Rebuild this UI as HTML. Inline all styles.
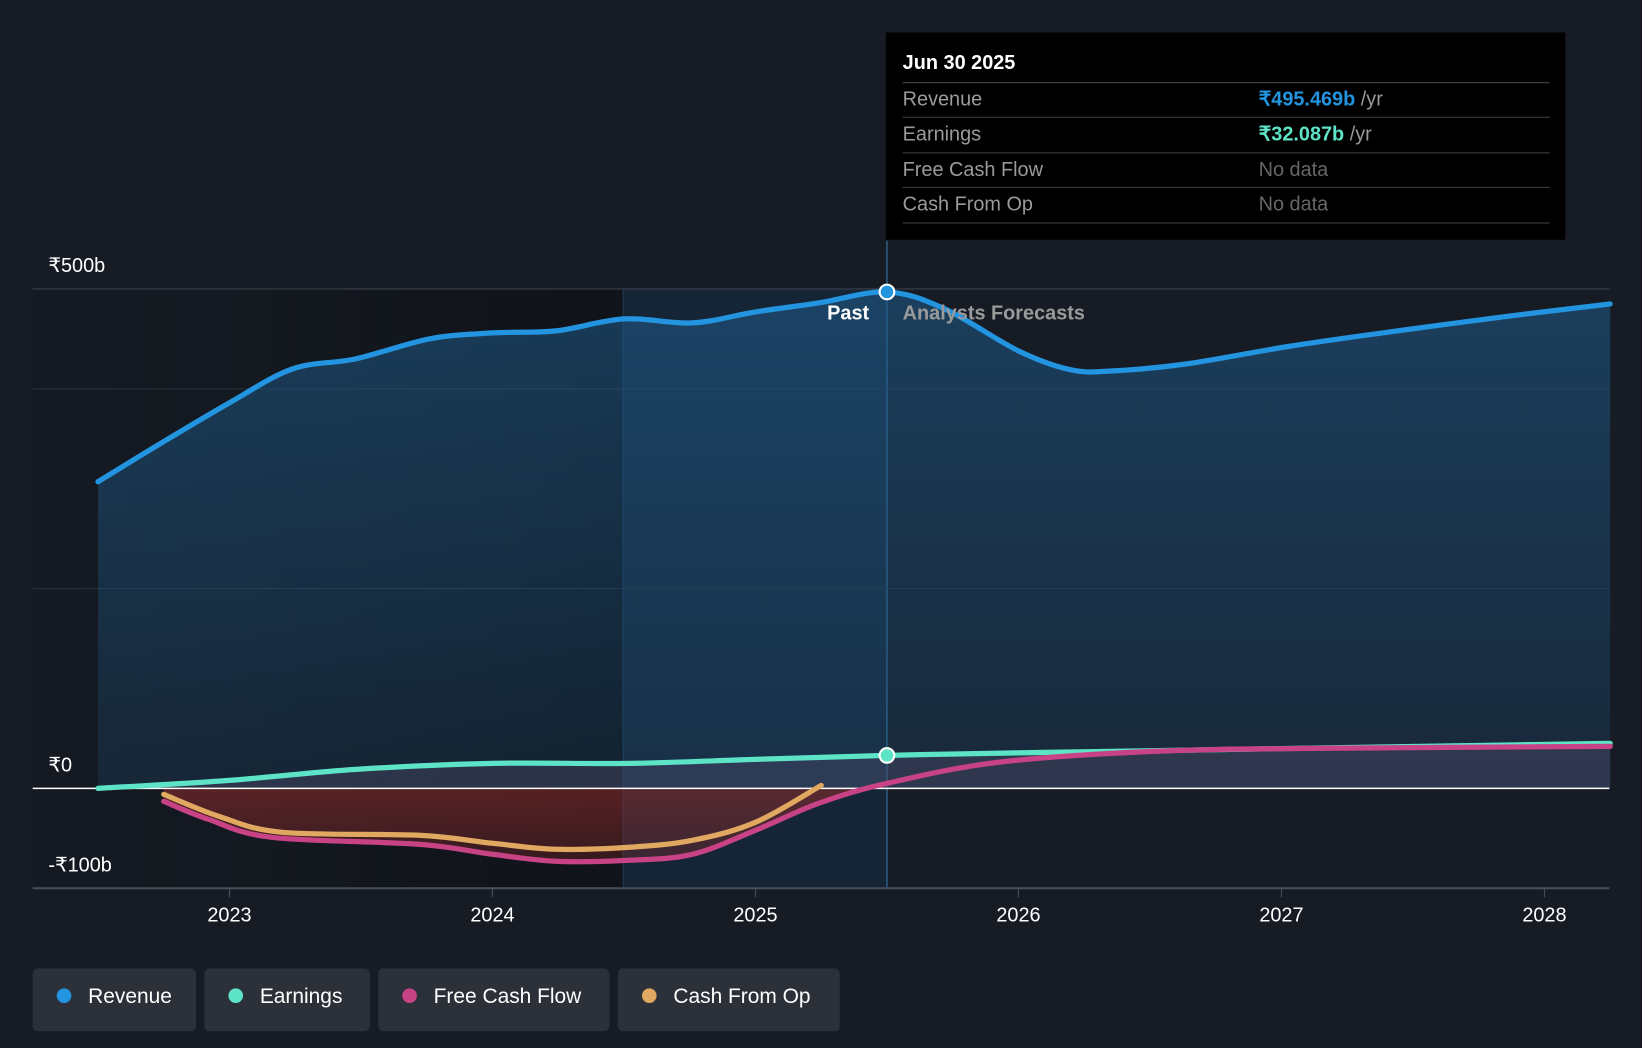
<!DOCTYPE html>
<html><head><meta charset="utf-8"><style>
html,body{margin:0;padding:0;background:#161b24;}
svg{display:block;font-family:"Liberation Sans",sans-serif;}
</style></head><body>
<svg width="1642" height="1048" viewBox="0 0 1568 1001">
<defs>
<linearGradient id="revg" x1="0" y1="0" x2="0" y2="1"><stop offset="0" stop-color="#1f5c8c" stop-opacity="0.55"/><stop offset="1" stop-color="#1f5c8c" stop-opacity="0.2"/></linearGradient>
<linearGradient id="fcfg" x1="0" y1="0" x2="0" y2="1"><stop offset="0" stop-color="#8a2a2a" stop-opacity="0.75"/><stop offset="1" stop-color="#8a2a2a" stop-opacity="0.3"/></linearGradient>
<linearGradient id="pastg" x1="0" y1="0" x2="1" y2="0"><stop offset="0" stop-color="#12151b" stop-opacity="0.2"/><stop offset="1" stop-color="#0f1217" stop-opacity="0.9"/></linearGradient>
<clipPath id="neg"><rect x="0" y="753" width="1568" height="200"/></clipPath>
</defs>
<rect x="0" y="0" width="1568" height="1001" fill="#161b24"/>
<rect x="31" y="276" width="564" height="573" fill="url(#pastg)"/>
<rect x="595" y="276" width="252" height="573" fill="#16324d" opacity="0.45"/>
<line x1="595" y1="276" x2="595" y2="849" stroke="#1f3a55" stroke-width="1"/>
<line x1="847" y1="230" x2="847" y2="849" stroke="#2c5a80" stroke-width="1.5"/>
<g id="grid"></g>
<g id="marks"></g>
<rect x="846" y="31" width="649" height="198" fill="#000"/>
<text x="862" y="66" fill="#fff" font-size="19" font-weight="bold">Jun 30 2025</text>
<g font-size="19" fill="#9a9a9a">
<line x1="862" y1="79" x2="1480" y2="79" stroke="#444"/>
<text x="862" y="101">Revenue</text><text x="1202" y="101"><tspan fill="#2394df" font-weight="bold">₹495.469b</tspan> /yr</text>
<line x1="862" y1="112" x2="1480" y2="112" stroke="#444"/>
<text x="862" y="134">Earnings</text><text x="1202" y="134"><tspan fill="#5de4c7" font-weight="bold">₹32.087b</tspan> /yr</text>
<line x1="862" y1="146" x2="1480" y2="146" stroke="#444"/>
<text x="862" y="168">Free Cash Flow</text><text x="1202" y="168" fill="#666">No data</text>
<line x1="862" y1="179" x2="1480" y2="179" stroke="#444"/>
<text x="862" y="201">Cash From Op</text><text x="1202" y="201" fill="#666">No data</text>
<line x1="862" y1="213" x2="1480" y2="213" stroke="#444"/>
</g>
<text x="830" y="305" fill="#fff" font-size="19" text-anchor="end" font-weight="bold">Past</text>
<text x="862" y="305" fill="#9a9a9a" font-size="19" font-weight="bold">Analysts Forecasts</text>
<g id="legend"></g>
</svg>
<script>
const yTicks=[500,0,-100];
const yTickLabels=["₹500b","₹0","-₹100b"];
const gridVals=[400,200];
const xTicks=[2023,2024,2025,2026,2027,2028];
const revYears=[2022.5,2022.73,2023.0,2023.24,2023.48,2023.76,2024.0,2024.24,2024.5,2024.76,2025.0,2025.24,2025.5,2025.72,2026.0,2026.2,2026.36,2026.64,2027.04,2027.44,2027.87,2028.25];
const revVals=[307,344,386,420,430,450,456,458,470,466,477,486,497,480,438,419,418,425,443,458,473,485];
const earnYears=[2022.5,2023.0,2023.48,2024.0,2024.52,2025.0,2025.5,2026.1,2028.25];
const earnVals=[0,8,19,25,25,29,33,36,45];
const fcfYears=[2022.75,2022.92,2023.16,2023.72,2024.0,2024.24,2024.52,2024.76,2025.0,2025.24,2025.5,2025.92,2026.51,2027.11,2028.25];
const fcfVals=[-13,-31,-49,-56,-66,-73,-72,-66,-42,-15,5,26,37,40,42];
const cfoYears=[2022.75,2022.96,2023.2,2023.72,2024.0,2024.24,2024.52,2024.76,2025.0,2025.25];
const cfoVals=[-6,-28,-44,-47,-55,-61,-59,-52,-34,3];
const X=y=>219+(y-2023)*251.2;
const Y=v=>753-v*0.954;
const NS="http://www.w3.org/2000/svg";
function mk(t,a,p){const e=document.createElementNS(NS,t);for(const k in a)e.setAttribute(k,a[k]);p.appendChild(e);return e;}
function path(xs,vs){const p=xs.map((x,i)=>[X(x),Y(vs[i])]);let d="M"+p[0][0]+","+p[0][1];
for(let i=0;i<p.length-1;i++){const p0=p[i-1]||p[i],p1=p[i],p2=p[i+1],p3=p[i+2]||p2;
d+=" C"+(p1[0]+(p2[0]-p0[0])/6)+","+(p1[1]+(p2[1]-p0[1])/6)+" "+(p2[0]-(p3[0]-p1[0])/6)+","+(p2[1]-(p3[1]-p1[1])/6)+" "+p2[0]+","+p2[1];}
return {d,first:p[0],last:p[p.length-1]};}
const grid=document.getElementById('grid');
gridVals.forEach(v=>{const l=mk('line',{x1:31,x2:1537,y1:Y(v),y2:Y(v),stroke:'#2a313c','stroke-width':1},grid);

});
mk('line',{x1:31,x2:1537,y1:Y(500),y2:Y(500),stroke:'#3a414c','stroke-width':1},grid);
mk('line',{x1:31,x2:1537,y1:Y(-100),y2:Y(-100),stroke:'#4a505a','stroke-width':2},grid);
yTicks.forEach((v,i)=>{const t=mk('text',{x:46,y:Y(v)-16,fill:'#fff','font-size':19},grid);t.textContent=yTickLabels[i];

});
xTicks.forEach(yr=>{mk('line',{x1:X(yr),x2:X(yr),y1:849,y2:857,stroke:'#4a505a'},grid);
const t=mk('text',{x:X(yr),y:880,fill:'#fff','font-size':19,'text-anchor':'middle'},grid);t.textContent=yr;

});
const m=document.getElementById('marks');
const r=path(revYears,revVals),e=path(earnYears,earnVals),f=path(fcfYears,fcfVals),c=path(cfoYears,cfoVals);
const ra=mk('path',{d:r.d+" L"+r.last[0]+","+Y(0)+" L"+r.first[0]+","+Y(0)+"Z",fill:'url(#revg)'},m);


mk('path',{d:e.d+" L"+e.last[0]+","+Y(0)+" L"+e.first[0]+","+Y(0)+"Z",fill:'#4a4a66',opacity:0.45},m);
const fa=mk('path',{d:f.d+" L"+f.last[0]+","+Y(0)+" L"+f.first[0]+","+Y(0)+"Z",fill:'url(#fcfg)','clip-path':'url(#neg)'},m);


mk('line',{x1:31,x2:1537,y1:Y(0),y2:Y(0),stroke:'#fff','stroke-width':1.5},m);
[[r,'#2394df','revenue-line'],[e,'#5de4c7','earnings-line'],[f,'#c84386','free-cash-flow-line'],[c,'#e0a860','cash-from-op-line']].forEach(([s,col,n])=>{
const p=mk('path',{d:s.d,fill:'none',stroke:col,'stroke-width':5,'stroke-linecap':'round'},m);

});
const d1=mk('circle',{cx:X(2025.5),cy:Y(497),r:7,fill:'#2394df',stroke:'#fff','stroke-width':2},m);


const d2=mk('circle',{cx:X(2025.5),cy:Y(33),r:7,fill:'#5de4c7',stroke:'#fff','stroke-width':2},m);


const lg=document.getElementById('legend');
[["Revenue","#2394df",31,156],["Earnings","#5de4c7",195,158],["Free Cash Flow","#c84386",361,221],["Cash From Op","#e0a860",590,212]].forEach(([t,col,x,w])=>{
const g=mk('g',{},lg);


mk('rect',{x:x,y:925,width:w,height:60,rx:5,fill:'#2b3039'},g);
mk('circle',{cx:x+30,cy:951,r:7,fill:col},g);
const tx=mk('text',{x:x+53,y:958,fill:'#fff','font-size':20},g);tx.textContent=t;});
</script>
</body></html>
